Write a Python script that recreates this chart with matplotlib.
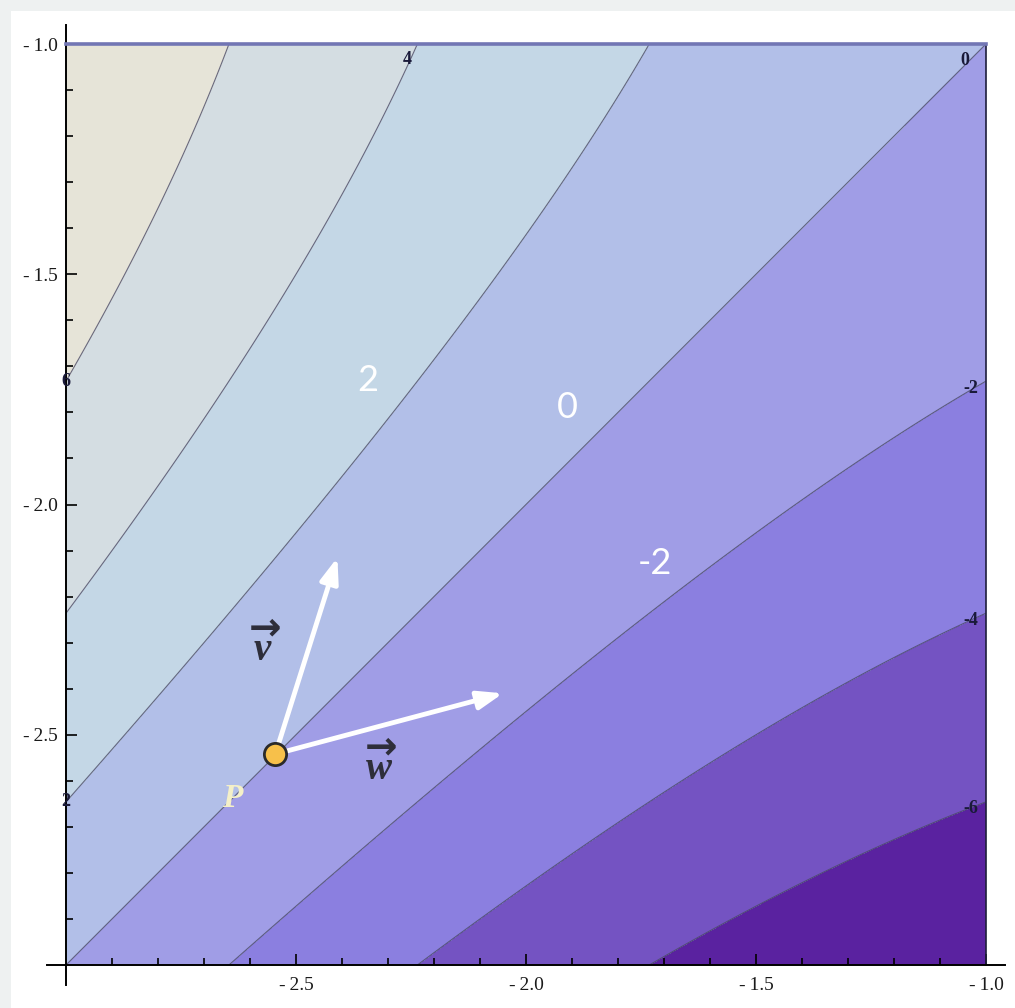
"""Contour plot of f(x, y) = x^2 - y^2 with two vectors at point P."""

import numpy as np
import matplotlib

matplotlib.use("Agg")
import matplotlib.pyplot as plt  # noqa: E402
from matplotlib.colors import ListedColormap  # noqa: E402
from matplotlib.patches import Rectangle  # noqa: E402

plt.rcParams["axes.unicode_minus"] = False
plt.rcParams["mathtext.fontset"] = "custom"
plt.rcParams["mathtext.bf"] = "Liberation Serif:italic:bold"
plt.rcParams["mathtext.rm"] = "DejaVu Sans:bold"

# --- data -------------------------------------------------------------
X_RANGE = (-3.0, -1.0)
Y_RANGE = (-3.0, -1.0)
LINE_LEVELS = [-6, -4, -2, 0, 2, 4, 6]
# which edge of the frame each contour is labelled on
LABEL_SIDES = ["right", "right", "right", "top", "left", "top", "left"]
FILL_LEVELS = [-9, -6, -4, -2, 0, 2, 4, 6, 9]
FILL_COLORS = ["#5a22a0", "#7453c2", "#8b7fe0", "#a09de6",
               "#b2bfe8", "#c4d7e6", "#d4dde2", "#e6e4d8"]
MAJOR_TICKS = [-2.5, -2.0, -1.5, -1.0]
MINOR_TICKS = [-2.9, -2.8, -2.7, -2.6, -2.4, -2.3, -2.2, -2.1,
               -1.9, -1.8, -1.7, -1.6, -1.4, -1.3, -1.2, -1.1]

P = (-2.545, -2.542)
V_TIP = (-2.41, -2.115)
W_TIP = (-2.05, -2.41)

# hand-placed white annotations: (text, x, y)
REGION_NOTES = [("2", -2.343, -1.730), ("0", -1.909, -1.789),
                ("-2", -1.720, -2.128)]


def f(x, y):
    return x ** 2 - y ** 2


def edge_point(c, side):
    """Where the level-c curve meets the given edge of the frame."""
    if side == "top":
        return -np.sqrt(c + Y_RANGE[1] ** 2), Y_RANGE[1]
    if side == "left":
        return X_RANGE[0], -np.sqrt(X_RANGE[0] ** 2 - c)
    return X_RANGE[1], -np.sqrt(X_RANGE[1] ** 2 - c)


xs = np.linspace(*X_RANGE, 500)
ys = np.linspace(*Y_RANGE, 500)
XX, YY = np.meshgrid(xs, ys)
ZZ = f(XX, YY)

fig = plt.figure(figsize=(10.15, 10.08), dpi=100, facecolor="#eef1f1")
fig.patches.append(Rectangle((11 / 1015, 0), 1, 997 / 1008,
                             transform=fig.transFigure, facecolor="white",
                             edgecolor="none", zorder=-10))
ax = fig.add_axes([66 / 1015, 43 / 1008, 920 / 1015, 921 / 1008])

ax.contourf(XX, YY, ZZ, levels=FILL_LEVELS, cmap=ListedColormap(FILL_COLORS))
ax.contour(XX, YY, ZZ, levels=LINE_LEVELS, colors="#4a4a66",
           linewidths=0.8, alpha=0.8, linestyles="solid")

ax.set_xlim(*X_RANGE)
ax.set_ylim(*Y_RANGE)

# Mathematica-style frame: axes through the lower-left corner, extended
ax.spines["top"].set_color("#7276b4")
ax.spines["top"].set_linewidth(2.6)
ax.spines["right"].set_color("#1e1e3c")
ax.spines["right"].set_linewidth(1.2)
for side in ("left", "bottom"):
    ax.spines[side].set_color("black")
    ax.spines[side].set_linewidth(1.4)
ax.spines["left"].set_bounds(-3.043, -0.959)
ax.spines["bottom"].set_bounds(-3.041, -0.959)

tick_text = [f"-\u2009{abs(t):.1f}" for t in MAJOR_TICKS]
ax.set_xticks(MAJOR_TICKS)
ax.set_yticks(MAJOR_TICKS)
ax.set_xticks(MINOR_TICKS, minor=True)
ax.set_yticks(MINOR_TICKS, minor=True)
ax.set_xticklabels(tick_text)
ax.set_yticklabels(tick_text)
ax.tick_params(which="both", direction="in", top=False, right=False,
               color="black", width=1.2)
ax.tick_params(which="major", length=8, labelsize=14)
ax.tick_params(axis="x", which="major", pad=9)
ax.tick_params(axis="y", which="major", pad=6)
ax.tick_params(which="minor", length=5)
for lab in ax.get_xticklabels() + ax.get_yticklabels():
    lab.set_family("Liberation Serif")
    lab.set_color("#1a1a1a")

# contour labels at the boundary
offsets = {"top": (-7, -11), "left": (0, 0), "right": (-11, -5)}
for c, side in zip(LINE_LEVELS, LABEL_SIDES):
    ex, ey = edge_point(c, side)
    dx, dy = offsets[side]
    if c == 0:
        dx, dy = (-15, -12)
    ax.annotate(str(c), (ex, ey), xytext=(dx, dy), textcoords="offset points",
                ha="center", va="center", fontsize=13, fontweight="bold",
                family="Liberation Serif", color="#1a1a3a", annotation_clip=False)

for txt, tx, ty in REGION_NOTES:
    ax.text(tx, ty, txt, color="white", fontsize=26, family="Lato",
            ha="center", va="center")

# vectors
for tip in (V_TIP, W_TIP):
    ax.annotate("", xy=tip, xytext=P,
                arrowprops=dict(arrowstyle="-|>,head_length=1.5,head_width=0.55",
                                color="white", lw=3.5, shrinkA=0, shrinkB=0))
ax.plot(*P, "o", ms=16, mfc="#f7c04a", mec="#2a2a2a", mew=2, zorder=5)

label_style = dict(ha="center", va="center", fontsize=28, color="#2e2e3a",
                   textcoords="offset points")
ax.annotate(r"$\overrightarrow{\mathbf{v}}$", P, xytext=(-7, 78), **label_style)
ax.annotate(r"$\overrightarrow{\mathbf{w}}$", P, xytext=(76, -8), **label_style)
ax.annotate("P", P, xytext=(-31, -32), textcoords="offset points",
            family="Liberation Serif", fontweight="bold", style="italic",
            fontsize=24, color="#f4f0c8", ha="center", va="center")

fig.savefig("out.png", dpi=100, facecolor=fig.get_facecolor())
